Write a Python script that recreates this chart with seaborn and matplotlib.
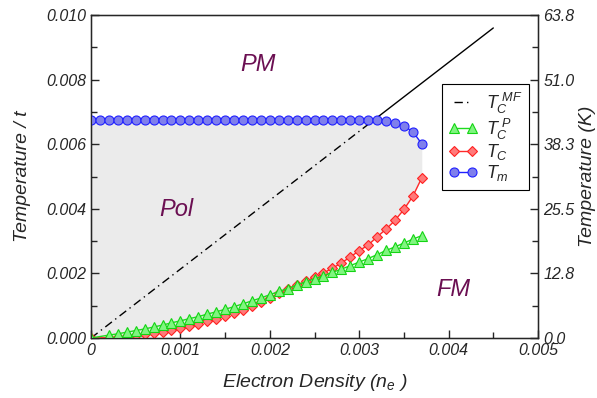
import numpy as np
import matplotlib
matplotlib.use("Agg")
import matplotlib.pyplot as plt
import seaborn as sns
from matplotlib.ticker import MultipleLocator, FixedLocator, FixedFormatter

# Electron density grid (units of n_e)
ne_m = [i * 1e-4 for i in range(38)]
ne_c = [0.0] + [i * 1e-4 for i in range(2, 38)]

# Polaron melting temperature T_m (units of t)
T_m = [0.00676] * 33 + [0.00673, 0.00665, 0.00656, 0.00639, 0.00601]

# Curie temperature T_C
T_C = [0.0, 0.00001, 0.00003, 0.00005, 0.00008, 0.00011, 0.00015, 0.00020,
       0.00025, 0.00031, 0.00037, 0.00044, 0.00052, 0.00060, 0.00068, 0.00078,
       0.00088, 0.00098, 0.00111, 0.00123, 0.00139, 0.00151, 0.00163, 0.00175,
       0.00188, 0.00201, 0.00216, 0.00232, 0.00251, 0.00270, 0.00288, 0.00313,
       0.00337, 0.00364, 0.00398, 0.00439, 0.00496]

# Perturbative Curie temperature T_C^P
T_CP = [0.0, 0.00009, 0.00013, 0.00018, 0.00023, 0.00028, 0.00034, 0.00040,
        0.00047, 0.00053, 0.00060, 0.00066, 0.00074, 0.00081, 0.00089, 0.00097,
        0.00106, 0.00115, 0.00124, 0.00134, 0.00144, 0.00153, 0.00164, 0.00174,
        0.00183, 0.00193, 0.00203, 0.00213, 0.00224, 0.00235, 0.00246, 0.00258,
        0.00271, 0.00282, 0.00294, 0.00306, 0.00317]

# Mean-field Curie temperature: linear in n_e
mf_slope = 2.133
mf_cross = 0.00676 / mf_slope
ne_mf_dash = [0.0, mf_cross]
ne_mf_solid = [mf_cross, 0.0045]

kelvin_per_t = 6380.0
xticks = [0, 0.001, 0.002, 0.003, 0.004, 0.005]
xticklabels = ["0", "0.001", "0.002", "0.003", "0.004", "0.005"]
yticks = [0.0, 0.002, 0.004, 0.006, 0.008, 0.010]
yticklabels = ["0.000", "0.002", "0.004", "0.006", "0.008", "0.010"]
ktick_labels = ["0.0", "12.8", "25.5", "38.3", "51.0", "63.8"]

sns.set_style("ticks")
plt.rcParams["font.family"] = ["Liberation Sans", "DejaVu Sans"]
plt.rcParams["mathtext.fontset"] = "custom"
plt.rcParams["mathtext.rm"] = "Liberation Sans:italic"
plt.rcParams["mathtext.it"] = "Liberation Sans:italic"

fig = plt.figure(figsize=(5.97, 3.98), dpi=100)
ax = fig.add_axes([91 / 597, 1 - 338 / 398, (538 - 91) / 597, (338 - 15) / 398])

# Polaronic region between T_C and T_m
tm_on_c = np.interp(ne_c, ne_m, T_m)
ax.fill_between(ne_c, T_C, tm_on_c, color="#ebebeb", lw=0, zorder=0)

label_color = "#6b0f52"
ax.text(0.00187, 0.00848, "PM", fontsize=17, style="italic", color=label_color, ha="center", va="center")
ax.text(0.00095, 0.00397, "Pol", fontsize=17, style="italic", color=label_color, ha="center", va="center")
ax.text(0.00405, 0.00149, "FM", fontsize=17, style="italic", color=label_color, ha="center", va="center")

sns.lineplot(x=ne_mf_dash, y=[mf_slope * v for v in ne_mf_dash], ax=ax, color="black",
             lw=1.0, linestyle=(0, (6, 3, 1, 3)), label=r"$T_C^{\ MF}$", zorder=3)
sns.lineplot(x=ne_mf_solid, y=[mf_slope * v for v in ne_mf_solid], ax=ax, color="black",
             lw=1.0, zorder=3)
sns.lineplot(x=ne_c, y=T_CP, ax=ax, color="#1edc1e", lw=1.0, marker="^", markersize=6.5,
             markerfacecolor="#80f580", markeredgecolor="#14d414", markeredgewidth=0.8,
             label=r"$T_C^{\ P}$", zorder=5)
sns.lineplot(x=ne_c, y=T_C, ax=ax, color="#ff2a2a", lw=1.0, marker="D", markersize=5.0,
             markerfacecolor="#ff7a7a", markeredgecolor="#ff2020", markeredgewidth=0.8,
             label=r"$T_C$", zorder=4)
sns.lineplot(x=ne_m, y=T_m, ax=ax, color="#2020ff", lw=1.0, marker="o", markersize=6.5,
             markerfacecolor="#7f7fec", markeredgecolor="#2020ff", markeredgewidth=0.8,
             label=r"$T_m$", zorder=6)

ax.set_xlim(0, 0.005)
ax.set_ylim(0, 0.010)
ax.xaxis.set_major_locator(FixedLocator(xticks))
ax.xaxis.set_major_formatter(FixedFormatter(xticklabels))
ax.xaxis.set_minor_locator(MultipleLocator(0.0005))
ax.yaxis.set_major_locator(FixedLocator(yticks))
ax.yaxis.set_major_formatter(FixedFormatter(yticklabels))
ax.yaxis.set_minor_locator(MultipleLocator(0.001))
ax.tick_params(which="both", direction="in", labelsize=11.5, width=1.0)
ax.tick_params(which="major", length=6)
ax.tick_params(which="minor", length=4)
for lab in ax.get_xticklabels() + ax.get_yticklabels():
    lab.set_style("italic")
for sp in ax.spines.values():
    sp.set_linewidth(1.0)
    sp.set_color("black")

ax.set_xlabel(r"Electron Density ($n_e$ )", fontsize=14, style="italic", labelpad=10)
ax.set_ylabel("Temperature / t", fontsize=14, style="italic", labelpad=11)

ax2 = ax.twinx()
ax2.set_ylim(0, 0.010 * kelvin_per_t)
ax2.yaxis.set_major_locator(FixedLocator([v * kelvin_per_t for v in yticks]))
ax2.yaxis.set_major_formatter(FixedFormatter(ktick_labels))
ax2.yaxis.set_minor_locator(FixedLocator([v * kelvin_per_t for v in np.arange(0.001, 0.010, 0.002)]))
ax2.tick_params(which="both", direction="in", labelsize=11.5, width=1.0, pad=4)
ax2.tick_params(which="major", length=6)
ax2.tick_params(which="minor", length=4)
for lab in ax2.get_yticklabels():
    lab.set_style("italic")
ax2.set_ylabel("Temperature (K)", fontsize=14, style="italic", labelpad=3)

leg = ax.legend(loc="upper left", bbox_to_anchor=(0.785, 0.786), fontsize=13, frameon=True,
                fancybox=False, edgecolor="black", framealpha=1.0, handlelength=1.6,
                numpoints=2, borderpad=0.35, labelspacing=0.05, handletextpad=0.5,
                borderaxespad=0.0)
leg.get_frame().set_linewidth(0.8)

fig.savefig("out.png", dpi=100)
